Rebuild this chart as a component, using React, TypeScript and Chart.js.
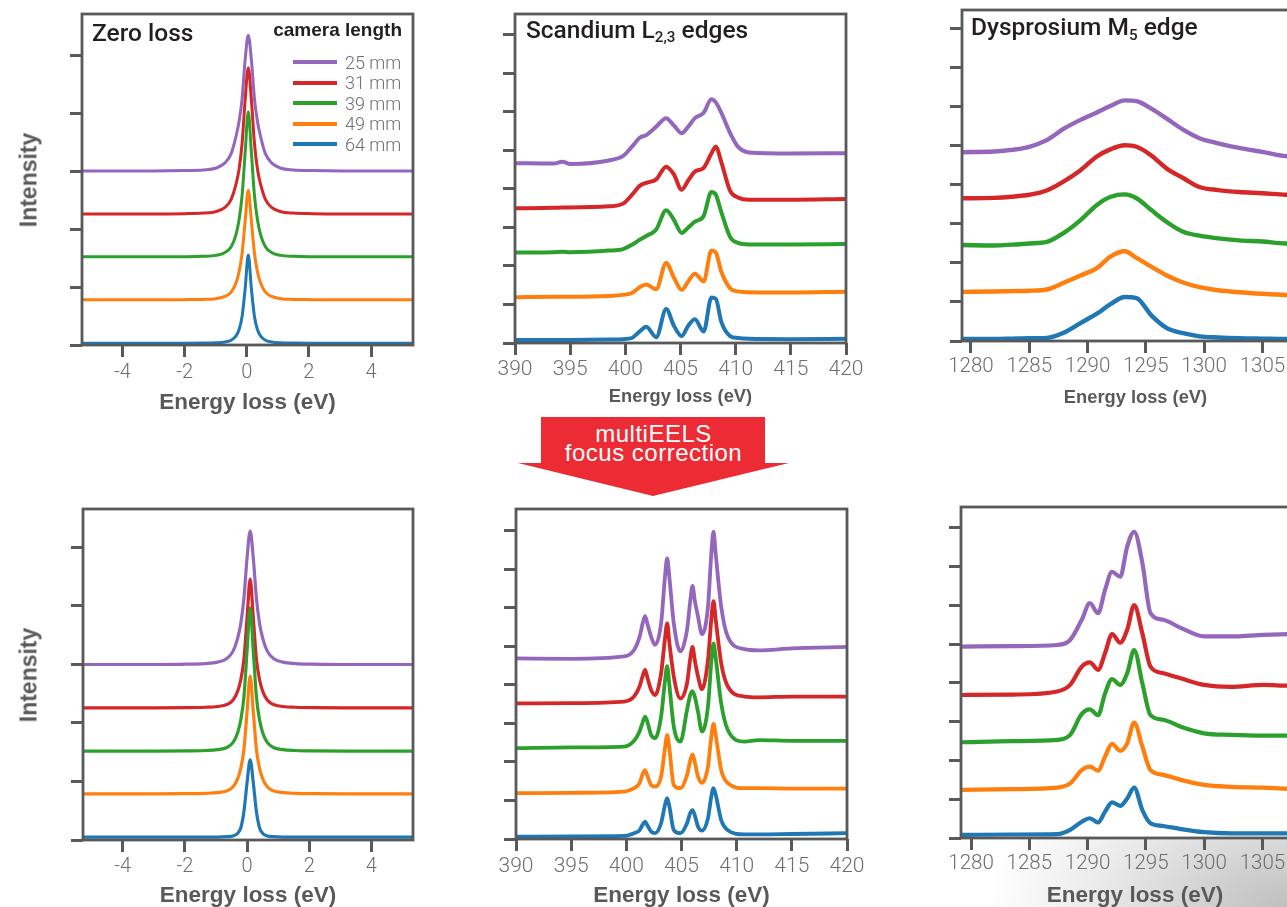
import React, { useEffect, useRef } from "react";
import { Chart, registerables } from "chart.js";

Chart.register(...registerables);

// ---------- shared labels / colours ----------
const SERIES_LABELS = ["25 mm", "31 mm", "39 mm", "49 mm", "64 mm"];
const SERIES_COLORS = ["#9467bd", "#d62728", "#2ca02c", "#ff7f0e", "#1f77b4"];
const X_TITLE = "Energy loss (eV)";

// ---------- tick values ----------
const ZL_TICKS = [-4, -2, 0, 2, 4];
const SC_TICKS = [390, 395, 400, 405, 410, 415, 420];
const DY_TICKS = [1280, 1285, 1290, 1295, 1300, 1305];
const Y_TICKS_ZL = [0, 1, 2, 3, 4, 5];
const Y_TICKS_EDGE = [0, 1, 2, 3, 4, 5, 6, 7, 8];

// ---------- Zero loss, before correction ----------
const ZL_TOP_X = [-5.35, -3, -2, -1.4, -1, -0.7, -0.5, -0.35, -0.25, -0.15, -0.05, 0.05, 0.15, 0.25, 0.35, 0.45, 0.6, 0.8, 1.1, 1.5, 2.1, 3.1, 5.4];
const ZL_TOP_25 = [3.0, 3.0, 3.007, 3.019, 3.047, 3.14, 3.3, 3.585, 3.84, 4.24, 4.92, 5.34, 4.92, 4.24, 3.84, 3.585, 3.3, 3.14, 3.047, 3.019, 3.007, 3.0, 3.0];
const ZL_TOP_31 = [2.26, 2.26, 2.265, 2.275, 2.298, 2.373, 2.512, 2.764, 3.016, 3.47, 4.226, 4.78, 4.226, 3.47, 3.016, 2.764, 2.512, 2.373, 2.298, 2.275, 2.265, 2.26, 2.26];
const ZL_TOP_39 = [1.52, 1.52, 1.523, 1.53, 1.545, 1.595, 1.695, 1.895, 2.145, 2.57, 3.32, 4.02, 3.32, 2.57, 2.145, 1.895, 1.695, 1.595, 1.545, 1.53, 1.523, 1.52, 1.52];
const ZL_TOP_49 = [0.78, 0.78, 0.782, 0.786, 0.799, 0.837, 0.912, 1.064, 1.253, 1.574, 2.141, 2.67, 2.141, 1.574, 1.253, 1.064, 0.912, 0.837, 0.799, 0.786, 0.782, 0.78, 0.78];
const ZL_TOP_64 = [0.03, 0.03, 0.03, 0.033, 0.038, 0.053, 0.083, 0.152, 0.258, 0.486, 0.972, 1.55, 0.972, 0.486, 0.258, 0.152, 0.083, 0.053, 0.038, 0.033, 0.03, 0.03, 0.03];

// ---------- Zero loss, after correction ----------
const ZL_BOT_X = [-5.35, -2.95, -1.95, -1.35, -0.95, -0.65, -0.45, -0.3, -0.2, -0.1, 0, 0.1, 0.2, 0.3, 0.4, 0.5, 0.65, 0.85, 1.15, 1.55, 2.15, 3.15, 5.4];
const ZL_BOT_25 = [3.0, 3.0, 3.005, 3.016, 3.041, 3.103, 3.228, 3.456, 3.707, 4.14, 4.824, 5.28, 4.824, 4.14, 3.707, 3.456, 3.228, 3.103, 3.041, 3.016, 3.005, 3.0, 3.0];
const ZL_BOT_31 = [2.26, 2.26, 2.262, 2.269, 2.282, 2.315, 2.392, 2.546, 2.744, 3.096, 3.8, 4.46, 3.8, 3.096, 2.744, 2.546, 2.392, 2.315, 2.282, 2.269, 2.262, 2.26, 2.26];
const ZL_BOT_39 = [1.52, 1.52, 1.522, 1.53, 1.545, 1.581, 1.667, 1.839, 2.059, 2.451, 3.235, 3.97, 3.235, 2.451, 2.059, 1.839, 1.667, 1.581, 1.545, 1.53, 1.522, 1.52, 1.52];
const ZL_BOT_49 = [0.79, 0.79, 0.792, 0.798, 0.81, 0.84, 0.911, 1.051, 1.232, 1.554, 2.197, 2.8, 2.197, 1.554, 1.232, 1.051, 0.911, 0.84, 0.81, 0.798, 0.792, 0.79, 0.79];
const ZL_BOT_64 = [0.05, 0.05, 0.05, 0.05, 0.05, 0.057, 0.07, 0.116, 0.21, 0.49, 0.98, 1.37, 0.98, 0.49, 0.21, 0.116, 0.07, 0.057, 0.05, 0.05, 0.05, 0.05, 0.05];

// ---------- Scandium L2,3, before correction ----------
const SC_TOP_X = [390, 393.5, 394.3, 395, 398.5, 399.8, 400.6, 401.3, 401.9, 402.8, 403.7, 404.4, 405.1, 405.7, 406.3, 407.1, 407.8, 408.2, 408.7, 409.5, 410.2, 411.2, 415, 420];
const SC_TOP_25 = [4.67, 4.66, 4.71, 4.65, 4.74, 4.86, 5.1, 5.33, 5.4, 5.62, 5.84, 5.65, 5.45, 5.62, 5.84, 5.98, 6.33, 6.25, 5.98, 5.45, 5.1, 4.95, 4.92, 4.93];
const SC_TOP_31 = [3.5, 3.51, 3.52, 3.52, 3.55, 3.62, 3.85, 4.08, 4.16, 4.25, 4.58, 4.38, 3.98, 4.22, 4.45, 4.55, 4.92, 5.1, 4.7, 3.95, 3.78, 3.72, 3.72, 3.74];
const SC_TOP_39 = [2.35, 2.36, 2.37, 2.36, 2.4, 2.44, 2.55, 2.68, 2.78, 2.95, 3.45, 3.2, 2.86, 3.0, 3.15, 3.3, 3.92, 3.85, 3.4, 2.75, 2.6, 2.56, 2.56, 2.57];
const SC_TOP_49 = [1.19, 1.2, 1.2, 1.2, 1.22, 1.25, 1.3, 1.45, 1.52, 1.4, 2.08, 1.7, 1.38, 1.6, 1.8, 1.6, 2.4, 2.35, 1.85, 1.42, 1.34, 1.32, 1.31, 1.33];
const SC_TOP_64 = [0.08, 0.08, 0.08, 0.08, 0.09, 0.1, 0.13, 0.3, 0.42, 0.15, 0.88, 0.45, 0.18, 0.45, 0.62, 0.3, 1.18, 1.15, 0.55, 0.18, 0.13, 0.11, 0.1, 0.11];

// ---------- Scandium L2,3, after correction ----------
const SC_BOT_X = [390, 395, 399.8, 400.7, 401.2, 401.5, 401.7, 401.9, 402.25, 402.6, 403.15, 403.5, 403.7, 403.9, 404.3, 404.9, 405.5, 405.8, 406.0, 406.2, 406.5, 406.85, 407.4, 407.7, 407.9, 408.1, 408.6, 409.2, 410.7, 412, 415, 420];
const SC_BOT_25 = [4.69, 4.68, 4.74, 4.91, 5.25, 5.62, 5.79, 5.6, 5.25, 5.04, 5.6, 6.8, 7.29, 6.8, 5.6, 4.87, 5.43, 6.2, 6.57, 6.2, 5.77, 5.32, 6.03, 7.4, 7.98, 7.4, 6.03, 5.25, 4.93, 4.9, 4.95, 4.99];
const SC_BOT_31 = [3.52, 3.53, 3.57, 3.7, 3.96, 4.25, 4.39, 4.2, 3.87, 3.74, 4.3, 5.2, 5.6, 5.1, 4.22, 3.65, 4.04, 4.7, 4.99, 4.65, 4.22, 3.89, 4.65, 5.7, 6.18, 5.7, 4.56, 3.96, 3.7, 3.68, 3.7, 3.7];
const SC_BOT_39 = [2.36, 2.38, 2.4, 2.55, 2.79, 3.05, 3.18, 3.05, 2.7, 2.62, 3.18, 4.1, 4.49, 4.0, 2.92, 2.53, 3.35, 3.75, 3.84, 3.7, 3.3, 2.79, 3.44, 4.6, 5.08, 4.7, 3.52, 2.83, 2.53, 2.57, 2.55, 2.55];
const SC_BOT_49 = [1.19, 1.2, 1.23, 1.32, 1.45, 1.7, 1.79, 1.65, 1.4, 1.36, 1.62, 2.35, 2.7, 2.35, 1.4, 1.32, 1.66, 2.05, 2.2, 2.0, 1.62, 1.46, 1.88, 2.65, 2.99, 2.7, 1.79, 1.45, 1.32, 1.32, 1.31, 1.31];
const SC_BOT_64 = [0.06, 0.07, 0.08, 0.15, 0.23, 0.38, 0.45, 0.36, 0.19, 0.15, 0.41, 0.88, 1.06, 0.85, 0.23, 0.15, 0.41, 0.68, 0.75, 0.62, 0.32, 0.22, 0.54, 1.1, 1.32, 1.15, 0.49, 0.23, 0.12, 0.12, 0.13, 0.15];

// ---------- Dysprosium M5, before correction ----------
const DY_TOP_X = [1279.2, 1282, 1283.5, 1285, 1286.5, 1288, 1289.4, 1290.8, 1292, 1293.2, 1294.2, 1295.5, 1296.8, 1298.2, 1299.6, 1301.2, 1303, 1305, 1307, 1309];
const DY_TOP_25 = [4.84, 4.86, 4.9, 4.98, 5.15, 5.45, 5.67, 5.86, 6.03, 6.17, 6.15, 5.95, 5.7, 5.42, 5.2, 5.07, 4.95, 4.85, 4.74, 4.7];
const DY_TOP_31 = [3.66, 3.67, 3.7, 3.75, 3.86, 4.1, 4.38, 4.73, 4.92, 5.02, 4.98, 4.75, 4.42, 4.18, 3.95, 3.87, 3.82, 3.79, 3.75, 3.74];
const DY_TOP_39 = [2.46, 2.45, 2.47, 2.5, 2.54, 2.78, 3.1, 3.49, 3.7, 3.76, 3.66, 3.35, 3.05, 2.8, 2.7, 2.63, 2.58, 2.55, 2.5, 2.5];
const DY_TOP_49 = [1.26, 1.27, 1.28, 1.29, 1.32, 1.5, 1.68, 1.87, 2.17, 2.3, 2.13, 1.9, 1.68, 1.5, 1.38, 1.3, 1.25, 1.21, 1.18, 1.17];
const DY_TOP_64 = [0.05, 0.05, 0.06, 0.07, 0.08, 0.22, 0.46, 0.7, 0.95, 1.13, 1.1, 0.65, 0.33, 0.2, 0.12, 0.09, 0.07, 0.06, 0.05, 0.05];

// ---------- Dysprosium M5, after correction ----------
const DY_BOT_X = [1279.2, 1283.6, 1287.4, 1288.5, 1289.5, 1290.2, 1290.9, 1291.5, 1292.1, 1292.8, 1293.4, 1294.0, 1294.7, 1295.4, 1296.5, 1298.0, 1300.0, 1302.3, 1305.1, 1307.3, 1309];
const DY_BOT_25 = [4.94, 4.95, 4.98, 5.11, 5.63, 6.06, 5.8, 6.4, 6.87, 6.74, 7.52, 7.9, 7.1, 5.8, 5.63, 5.42, 5.2, 5.2, 5.24, 5.26, 5.27];
const DY_BOT_31 = [3.69, 3.7, 3.78, 3.95, 4.42, 4.53, 4.34, 4.77, 5.26, 5.04, 5.37, 6.01, 5.28, 4.42, 4.25, 4.12, 3.95, 3.9, 3.95, 3.93, 3.93];
const DY_BOT_39 = [2.47, 2.5, 2.53, 2.66, 3.2, 3.32, 3.17, 3.73, 4.1, 3.95, 4.25, 4.85, 3.99, 3.17, 3.05, 2.87, 2.7, 2.66, 2.64, 2.64, 2.64];
const DY_BOT_49 = [1.24, 1.26, 1.3, 1.41, 1.75, 1.84, 1.74, 2.1, 2.43, 2.25, 2.44, 2.98, 2.36, 1.75, 1.63, 1.5, 1.37, 1.32, 1.3, 1.27, 1.27];
const DY_BOT_64 = [0.08, 0.09, 0.1, 0.21, 0.42, 0.51, 0.4, 0.68, 0.92, 0.83, 1.02, 1.3, 0.72, 0.38, 0.31, 0.23, 0.15, 0.12, 0.12, 0.12, 0.12];

// ---------- styles ----------
const AXIS_COLOR = "#58595b";
const TICK_COLOR = "#6d6e71";
const DARK_TEXT = "#231f20";
const TITLE_FONT = '"Liberation Sans", Arial, Helvetica, sans-serif';
const PANEL_TITLE_FONT = 'Roboto, "Liberation Sans", Arial, sans-serif';
const TICK_FONT = 'Roboto, "Liberation Sans", Arial, sans-serif';

type Spec = {
  id: string;
  L: number; R: number; T: number; B: number; XH: number;
  xs: number[]; series: number[][];
  xMin: number; xMax: number; xTicks: number[];
  yMax: number; yTicks: number[];
  lw: number; titleSize: number; tickSize: number; tickPad: number;
};

const PANELS: Spec[] = [
  { id: "zl-top", L: 82, R: 413, T: 14, B: 345, XH: 71, xs: ZL_TOP_X,
    series: [ZL_TOP_25, ZL_TOP_31, ZL_TOP_39, ZL_TOP_49, ZL_TOP_64],
    xMin: -5.3, xMax: 5.35, xTicks: ZL_TICKS, yMax: 5.707, yTicks: Y_TICKS_ZL,
    lw: 3, titleSize: 22.5, tickSize: 20, tickPad: 4 },
  { id: "sc-top", L: 515, R: 846, T: 14, B: 343, XH: 65, xs: SC_TOP_X,
    series: [SC_TOP_25, SC_TOP_31, SC_TOP_39, SC_TOP_49, SC_TOP_64],
    xMin: 390, xMax: 420, xTicks: SC_TICKS, yMax: 8.545, yTicks: Y_TICKS_EDGE,
    lw: 4, titleSize: 18.3, tickSize: 21, tickPad: 2 },
  { id: "dy-top", L: 962, R: 1308.6, T: 10, B: 341, XH: 68, xs: DY_TOP_X,
    series: [DY_TOP_25, DY_TOP_31, DY_TOP_39, DY_TOP_49, DY_TOP_64],
    xMin: 1279.23, xMax: 1309, xTicks: DY_TICKS, yMax: 8.487, yTicks: Y_TICKS_EDGE,
    lw: 4.4, titleSize: 18.3, tickSize: 20.5, tickPad: 2 },
  { id: "zl-bot", L: 83, R: 413, T: 509, B: 840, XH: 69, xs: ZL_BOT_X,
    series: [ZL_BOT_25, ZL_BOT_31, ZL_BOT_39, ZL_BOT_49, ZL_BOT_64],
    xMin: -5.28, xMax: 5.34, xTicks: ZL_TICKS, yMax: 5.658, yTicks: Y_TICKS_ZL,
    lw: 3.2, titleSize: 22.5, tickSize: 20, tickPad: 3 },
  { id: "sc-bot", L: 516, R: 847, T: 509, B: 839, XH: 70, xs: SC_BOT_X,
    series: [SC_BOT_25, SC_BOT_31, SC_BOT_39, SC_BOT_49, SC_BOT_64],
    xMin: 390, xMax: 420, xTicks: SC_TICKS, yMax: 8.57, yTicks: Y_TICKS_EDGE,
    lw: 3.8, titleSize: 22.5, tickSize: 21, tickPad: 3 },
  { id: "dy-bot", L: 961, R: 1308.6, T: 507, B: 838, XH: 71, xs: DY_BOT_X,
    series: [DY_BOT_25, DY_BOT_31, DY_BOT_39, DY_BOT_49, DY_BOT_64],
    xMin: 1279.14, xMax: 1309, xTicks: DY_TICKS, yMax: 8.54, yTicks: Y_TICKS_EDGE,
    lw: 4.2, titleSize: 22.5, tickSize: 20.5, tickPad: 2 },
];

const framePlugin = {
  id: "frameBox",
  beforeDraw(chart: any) {
    const { ctx, chartArea: a } = chart;
    ctx.save();
    ctx.fillStyle = "#ffffff";
    ctx.fillRect(a.left, a.top, a.right - a.left, a.bottom - a.top);
    ctx.restore();
  },
  afterDatasetsDraw(chart: any) {
    const { ctx, chartArea: a } = chart;
    ctx.save();
    ctx.strokeStyle = AXIS_COLOR;
    ctx.lineWidth = 2.8;
    ctx.strokeRect(a.left, a.top, a.right - a.left, a.bottom - a.top);
    ctx.restore();
  },
};

const PAD_L = 26;
const Y_W = 16;
const PAD_T = 6;
const PAD_R = 26;

function Panel({ spec }: { spec: Spec }) {
  const ref = useRef<HTMLCanvasElement | null>(null);
  const w = Math.round(spec.R - spec.L) + PAD_L + Y_W + PAD_R;
  const h = Math.round(spec.B - spec.T) + PAD_T + spec.XH;

  useEffect(() => {
    const canvas = ref.current;
    if (!canvas) return;
    const drawOrder = [4, 3, 2, 1, 0]; // index 0 is painted last (on top)
    const datasets = drawOrder.map((i) => ({
      label: SERIES_LABELS[i],
      data: spec.xs.map((x, k) => ({ x, y: spec.series[i][k] })),
      borderColor: SERIES_COLORS[i],
      backgroundColor: SERIES_COLORS[i],
      borderWidth: spec.lw,
      pointRadius: 0,
      fill: false,
      cubicInterpolationMode: "monotone",
      borderJoinStyle: "round",
      borderCapStyle: "round",
    }));
    const gridOpts = {
      display: true,
      drawOnChartArea: false,
      drawTicks: true,
      tickLength: 12,
      lineWidth: 3,
      color: AXIS_COLOR,
    };
    const chart = new Chart(canvas, {
      type: "line",
      data: { datasets } as any,
      options: {
        animation: false,
        responsive: false,
        events: [],
        layout: { padding: { left: PAD_L, right: PAD_R, top: PAD_T, bottom: 0 } },
        plugins: { legend: { display: false }, tooltip: { enabled: false } },
        scales: {
          x: {
            type: "linear",
            min: spec.xMin,
            max: spec.xMax,
            afterBuildTicks: (s: any) => {
              s.ticks = spec.xTicks.map((v) => ({ value: v }));
            },
            afterFit: (s: any) => {
              s.height = spec.XH;
              s.paddingLeft = 0;
              s.paddingRight = 0;
            },
            grid: gridOpts,
            border: { display: false },
            ticks: {
              autoSkip: false,
              maxRotation: 0,
              minRotation: 0,
              padding: spec.tickPad,
              color: TICK_COLOR,
              font: { family: TICK_FONT, size: spec.tickSize, weight: "300" },
              callback: (v: any) => String(v),
            },
            title: {
              display: true,
              text: X_TITLE,
              color: AXIS_COLOR,
              font: { family: TITLE_FONT, size: spec.titleSize, weight: "bold" },
              padding: 0,
            },
          },
          y: {
            type: "linear",
            min: 0,
            max: spec.yMax,
            afterBuildTicks: (s: any) => {
              s.ticks = spec.yTicks.map((v) => ({ value: v }));
            },
            afterFit: (s: any) => {
              s.width = Y_W;
              s.paddingTop = 0;
              s.paddingBottom = 0;
            },
            grid: gridOpts,
            border: { display: false },
            ticks: { display: false },
          },
        },
      } as any,
      plugins: [framePlugin as any],
    });
    return () => chart.destroy();
  }, [spec]);

  return (
    <canvas
      ref={ref}
      width={w}
      height={h}
      style={{
        position: "absolute",
        left: spec.L - PAD_L - Y_W,
        top: spec.T - PAD_T,
        width: w,
        height: h,
        display: "block",
      }}
    />
  );
}

const subStyle: React.CSSProperties = {
  fontSize: "0.62em",
  position: "relative",
  top: "0.3em",
};

export default function App() {
  const titleBase: React.CSSProperties = {
    position: "absolute",
    fontFamily: PANEL_TITLE_FONT,
    fontWeight: 500,
    fontSize: 24.5,
    lineHeight: "24px",
    color: DARK_TEXT,
    whiteSpace: "nowrap",
  };
  const intensityStyle = (cy: number): React.CSSProperties => ({
    position: "absolute",
    left: 29,
    top: cy,
    transform: "translate(-50%, -50%) rotate(-90deg)",
    fontFamily: TITLE_FONT,
    fontWeight: "bold",
    fontSize: 23,
    lineHeight: "23px",
    color: AXIS_COLOR,
    whiteSpace: "nowrap",
  });

  return (
    <div
      style={{
        position: "fixed",
        left: 0,
        top: 0,
        width: 1287,
        height: 907,
        overflow: "hidden",
        background: "#ffffff",
      }}
    >
      {/* faint grey shading in the lower-right corner */}
      <div
        style={{
          position: "absolute",
          left: 900,
          top: 760,
          width: 387,
          height: 147,
          background:
            "radial-gradient(ellipse 300px 165px at 100% 100%, #bfbfbf 0%, #d6d6d6 35%, #ebebeb 65%, rgba(255,255,255,0) 100%)",
        }}
      />

      {PANELS.map((p) => (
        <Panel key={p.id} spec={p} />
      ))}

      {/* panel titles */}
      <div style={{ ...titleBase, left: 92, top: 21 }}>Zero loss</div>
      <div style={{ ...titleBase, left: 526, top: 17.5 }}>
        Scandium L<span style={subStyle}>2,3</span> edges
      </div>
      <div style={{ ...titleBase, left: 971, top: 15 }}>
        Dysprosium M<span style={subStyle}>5</span> edge
      </div>

      {/* legend */}
      <div
        style={{
          position: "absolute",
          left: 222,
          width: 180,
          top: 20,
          textAlign: "right",
          fontFamily: TITLE_FONT,
          fontWeight: "bold",
          fontSize: 19,
          lineHeight: "19px",
          color: DARK_TEXT,
          whiteSpace: "nowrap",
        }}
      >
        camera length
      </div>
      {SERIES_LABELS.map((lab, i) => {
        const cy = 62.3 + i * 20.5;
        return (
          <React.Fragment key={lab}>
            <div
              style={{
                position: "absolute",
                left: 293,
                top: cy - 2,
                width: 44,
                height: 4,
                background: SERIES_COLORS[i],
              }}
            />
            <div
              style={{
                position: "absolute",
                left: 345,
                top: cy - 8.8,
                fontFamily: TICK_FONT,
                fontWeight: 300,
                fontSize: 18,
                lineHeight: "18px",
                color: TICK_COLOR,
                whiteSpace: "nowrap",
              }}
            >
              {lab}
            </div>
          </React.Fragment>
        );
      })}

      {/* y-axis labels */}
      <div style={intensityStyle(180)}>Intensity</div>
      <div style={intensityStyle(675)}>Intensity</div>

      {/* red arrow */}
      <div
        style={{
          position: "absolute",
          left: 518,
          top: 417,
          width: 271,
          height: 79,
          background: "#ed2b34",
          clipPath:
            "polygon(23px 0px, 247px 0px, 247px 46px, 271px 46px, 135px 79px, 0px 46px, 23px 46px)",
        }}
      />
      <div
        style={{
          position: "absolute",
          left: 518,
          width: 271,
          top: 423.5,
          textAlign: "center",
          color: "#ffffff",
          fontFamily: TITLE_FONT,
          fontSize: 24,
          lineHeight: "19.5px",
          letterSpacing: "0.5px",
          whiteSpace: "nowrap",
        }}
      >
        multiEELS
        <br />
        focus correction
      </div>
    </div>
  );
}
